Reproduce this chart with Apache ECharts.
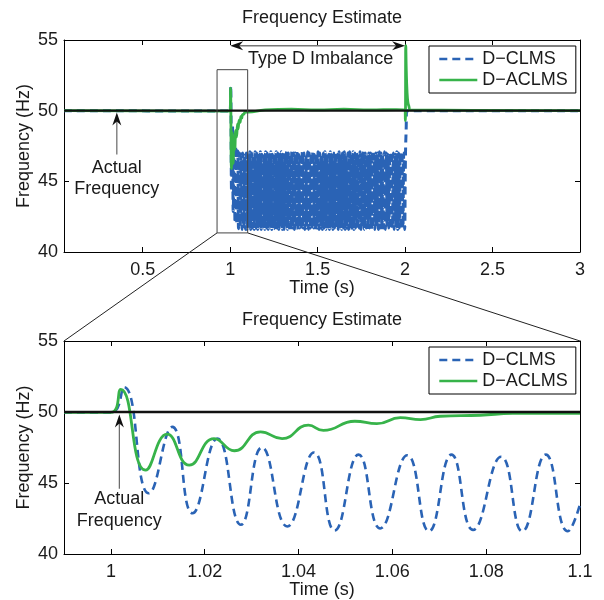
<!DOCTYPE html>
<html><head><meta charset="utf-8">
<script src="https://cdn.jsdelivr.net/npm/echarts@6/dist/echarts.min.js"></script>
<style>html,body{margin:0;padding:0;background:#fff}#c{width:604px;height:600px}</style>
</head><body><div id="c"></div>
<script>
// ---------------- DATA ----------------
const seriesNames = ['D\u2212CLMS', 'D\u2212ACLMS'];
const actualFrequency = 50;
const yTicks = [40, 45, 50, 55];
const topXTicks = [0.5, 1, 1.5, 2, 2.5, 3];
const bottomXTicks = [1, 1.02, 1.04, 1.06, 1.08, 1.1];

// zoomed window (0.99 - 1.1 s), D-CLMS extrema
const zoomClmsTime = [0.99, 1.0, 1.0028, 1.0081, 1.0131, 1.0174, 1.0227, 1.0277, 1.0322, 1.0376, 1.0433, 1.0477, 1.0528, 1.0574, 1.0632, 1.0678, 1.0726, 1.0772, 1.0832, 1.0877, 1.0927, 1.0974, 1.1];
const zoomClmsFreq = [49.97, 49.97, 51.75, 44.28, 48.95, 42.87, 48.13, 42.06, 47.5, 41.94, 47.15, 41.65, 47.0, 41.8, 46.95, 41.6, 47.0, 41.7, 46.85, 41.6, 47.0, 41.6, 43.5];

// zoomed window, D-ACLMS
const zoomAclmsTime = [0.99, 1.0, 1.0021, 1.0074, 1.012, 1.0167, 1.022, 1.0263, 1.0319, 1.0365, 1.0421, 1.0453, 1.052, 1.0567, 1.0617, 1.066, 1.0702, 1.0787, 1.0857, 1.1];
const zoomAclmsFreq = [49.97, 49.97, 51.6, 45.9, 48.44, 46.26, 48.13, 47.27, 48.6, 48.13, 49.07, 48.7, 49.35, 49.18, 49.6, 49.47, 49.7, 49.77, 49.9, 49.9];

// full record, before the imbalance
const preTime = [0.05];
const preClmsFreq = [50.0];
const preAclmsFreq = [50.0];

// full record, D-CLMS oscillation during imbalance (alternating peaks/troughs, 1.1025 s onwards every 5 ms)
const steadyClmsStart = 1.1025;
const steadyClmsStep = 0.005;
const steadyClmsFreq = [
47.0,41.7,47.1,41.6,47.0,41.7,46.9,41.6,47.1,41.7,47.0,41.6,47.0,41.7,47.1,41.6,46.9,41.7,47.0,41.6,
47.1,41.7,47.0,41.6,47.0,41.7,47.1,41.6,46.9,41.7,47.0,41.6,47.1,41.7,47.0,41.6,47.0,41.7,47.1,41.6,
46.9,41.6,47.0,41.7,47.1,41.6,47.0,41.7,46.9,41.6,47.1,41.7,47.0,41.6,47.0,41.7,47.1,41.6,46.9,41.7,
47.0,41.6,47.1,41.7,47.0,41.6,46.9,41.7,47.1,41.6,47.0,41.7,47.0,41.6,47.1,41.7,46.9,41.6,47.0,41.7,
47.1,41.6,47.0,41.7,46.9,41.6,47.0,41.7,47.1,41.6,47.0,41.7,46.9,41.6,47.1,41.7,47.0,41.6,47.0,41.7,
47.0,41.7,46.9,41.6,47.1,41.7,47.0,41.6,47.0,41.7,47.1,41.6,46.9,41.7,47.0,41.6,47.1,41.7,47.0,41.6,
47.1,41.6,47.0,41.7,47.0,41.6,46.9,41.7,47.1,41.6,47.0,41.7,47.1,41.6,47.0,41.7,46.9,41.6,47.0,41.7,
47.0,41.6,47.1,41.7,46.9,41.6,47.0,41.7,47.0,41.6,47.1,41.7,47.0,41.6,46.9,41.7,47.1,41.6,47.0,41.7,
46.9,41.7,47.0,41.6,47.1,41.7,47.0,41.6,46.9,41.7,47.1,41.6,47.0,41.7,47.0,41.6,47.1,41.7,47.0,41.6
];
// full record, D-CLMS after the imbalance ends
const postClmsTime = [2.0025, 2.006, 2.01, 3.0];
const postClmsFreq = [47.0, 48.6, 50.0, 50.0];

// full record, D-ACLMS after the transient
const postAclmsTime = [1.2, 1.35, 1.5, 1.65, 1.8, 1.95, 1.999, 2.0015, 2.004, 2.007, 2.011, 2.016, 2.022, 2.03, 3.0];
const postAclmsFreq = [50.05, 50.1, 50.05, 50.1, 50.05, 50.08, 50.05, 49.3, 54.6, 52.8, 51.4, 50.6, 50.3, 50.05, 50.0];

// ---------------- CHART ----------------
const FONT = '"Liberation Sans", Arial, Helvetica, sans-serif';
const TXT = '#1a1a1a';
const BLUE = '#2a63b5', GREEN = '#37b34a';
const pairs = (t, v) => t.map((x, i) => [x, v[i]]);
const steadyTime = steadyClmsFreq.map((_, i) => +(steadyClmsStart + i * steadyClmsStep).toFixed(4));

const topClms = [].concat(pairs(preTime, preClmsFreq), pairs(zoomClmsTime, zoomClmsFreq).slice(1), pairs(steadyTime, steadyClmsFreq), pairs(postClmsTime, postClmsFreq));
const topAclms = [].concat(pairs(preTime, preAclmsFreq), pairs(zoomAclmsTime, zoomAclmsFreq).slice(1), pairs(postAclmsTime, postAclmsFreq));
const botClms = pairs(zoomClmsTime, zoomClmsFreq);
const botAclms = pairs(zoomAclmsTime, zoomAclmsFreq);

const ranges = [{min: 0.05, max: 3, ticks: topXTicks, clmsW: 3}, {min: 0.99, max: 1.1, ticks: bottomXTicks, clmsW: 2.6}];
const textStyle = {fontFamily: FONT, fontSize: 18, color: TXT};

function xAxes(g) {
  const r = ranges[g];
  return [{
    type: 'value', gridIndex: g, min: r.min, max: r.max, position: 'bottom',
    axisLine: {show: true, onZero: false, lineStyle: {color: '#000', width: 1}},
    axisTick: {show: true, inside: true, length: 5, customValues: r.ticks, lineStyle: {color: '#000'}},
    axisLabel: {customValues: r.ticks, margin: 9, ...textStyle},
    splitLine: {show: false},
    name: 'Time (s)', nameLocation: 'middle', nameGap: 27, nameMoveOverlap: false, nameTextStyle: textStyle
  }, {
    type: 'value', gridIndex: g, min: r.min, max: r.max, position: 'top',
    axisLine: {show: true, onZero: false, lineStyle: {color: '#000', width: 1}},
    axisTick: {show: true, inside: true, length: 5, customValues: r.ticks, lineStyle: {color: '#000'}},
    axisLabel: {show: false}, splitLine: {show: false}
  }];
}
function yAxes(g) {
  return [{
    type: 'value', gridIndex: g, min: 40, max: 55, interval: 5, position: 'left',
    axisLine: {show: true, onZero: false, lineStyle: {color: '#000', width: 1}},
    axisTick: {show: true, inside: true, length: 5, lineStyle: {color: '#000'}},
    axisLabel: {margin: 6, ...textStyle, formatter: v => yTicks.includes(v) ? String(v) : ''},
    splitLine: {show: false},
    name: 'Frequency (Hz)', nameLocation: 'middle', nameGap: 31, nameMoveOverlap: false, nameTextStyle: textStyle
  }, {
    type: 'value', gridIndex: g, min: 40, max: 55, interval: 5, position: 'right',
    axisLine: {show: true, onZero: false, lineStyle: {color: '#000', width: 1}},
    axisTick: {show: true, inside: true, length: 5, lineStyle: {color: '#000'}},
    axisLabel: {show: false}, splitLine: {show: false}
  }];
}
function seriesFor(g, clms, aclms) {
  const r = ranges[g];
  const common = {type: 'line', xAxisIndex: 2 * g, yAxisIndex: 2 * g, symbol: 'none', smooth: 0.5, animation: false, silent: true};
  return [
    {...common, name: seriesNames[0], data: clms, lineStyle: {color: BLUE, width: r.clmsW, type: [8, 5]}, itemStyle: {color: BLUE}, z: 2},
    {...common, name: seriesNames[1], data: aclms, lineStyle: {color: GREEN, width: 2.8}, itemStyle: {color: GREEN}, z: 3},
    {...common, name: 'Actual', smooth: false, data: [[r.min, actualFrequency], [r.max, actualFrequency]], lineStyle: {color: '#111', width: 2.3}, z: 4}
  ];
}
function legendAt(top) {
  return {
    data: seriesNames, orient: 'vertical', left: 429, top: top, padding: [4, 8, 4, 9], itemGap: 3,
    itemWidth: 38, itemHeight: 14, borderColor: '#000', borderWidth: 1, backgroundColor: '#fff',
    itemStyle: {opacity: 0}, lineStyle: {width: 2.6},
    textStyle: textStyle, selectedMode: false
  };
}

const chart = echarts.init(document.getElementById('c'), null, {renderer: 'canvas'});
chart.setOption({
  backgroundColor: '#fff',
  animation: false,
  grid: [
    {left: 64, top: 40, width: 516, height: 212, containLabel: false},
    {left: 64, top: 341, width: 516, height: 215, containLabel: false}
  ],
  xAxis: [].concat(xAxes(0), xAxes(1)),
  yAxis: [].concat(yAxes(0), yAxes(1)),
  legend: [legendAt(46), legendAt(347)],
  series: [].concat(seriesFor(0, topClms, topAclms), seriesFor(1, botClms, botAclms))
});

// ---------------- ANNOTATIONS ----------------
const P = (g, x, y) => chart.convertToPixel({gridIndex: g}, [x, y]);
function arrowHead(tip, from) {
  const dx = tip[0] - from[0], dy = tip[1] - from[1];
  const len = Math.hypot(dx, dy), ux = dx / len, uy = dy / len, px = -uy, py = ux;
  const L = 13, W = 4.5, N = 9;
  return {type: 'polygon', z: 100, shape: {points: [
    tip,
    [tip[0] - ux * L + px * W, tip[1] - uy * L + py * W],
    [tip[0] - ux * N, tip[1] - uy * N],
    [tip[0] - ux * L - px * W, tip[1] - uy * L - py * W]
  ]}, style: {fill: '#111'}};
}
function line(a, b, color, w) {
  return {type: 'line', z: 99, shape: {x1: a[0], y1: a[1], x2: b[0], y2: b[1]}, style: {stroke: color, lineWidth: w}};
}
function text(s, pt, size) {
  return {type: 'text', z: 101, x: pt[0], y: pt[1], style: {text: s, font: (size || 18) + 'px ' + FONT, fill: TXT, align: 'center', verticalAlign: 'middle'}};
}

const G = [];
// titles
const t0 = P(0, 1.525, 55), t1 = P(1, 1.045, 55);
G.push(text('Frequency Estimate', [t0[0], 18.5]));
G.push(text('Frequency Estimate', [t1[0], 320]));

// zoom rectangle and connectors
const r1 = P(0, 0.925, 52.9), r2 = P(0, 1.1, 41.35);
G.push({type: 'rect', z: 98, shape: {x: r1[0], y: r1[1], width: r2[0] - r1[0], height: r2[1] - r1[1]}, style: {fill: null, stroke: '#444', lineWidth: 1}});
G.push(line([r1[0], r2[1]], P(1, 0.99, 55), '#222', 1));
G.push(line([r2[0], r2[1]], P(1, 1.1, 55), '#222', 1));

// Type D Imbalance double arrow
const d1 = P(0, 1.0, 54.6), d2 = P(0, 2.0, 54.6);
G.push(line([d1[0] + 8, d1[1]], [d2[0] - 8, d2[1]], '#777', 1.5));
G.push(arrowHead(d1, d2));
G.push(arrowHead(d2, d1));
G.push(text('Type D Imbalance', P(0, 1.517, 53.62)));

// Actual frequency arrows
const a1tip = P(0, 0.352, 49.87), a1tail = P(0, 0.352, 46.9);
G.push(line(a1tail, [a1tip[0], a1tip[1] + 8], '#666', 1.2));
G.push(arrowHead(a1tip, a1tail));
G.push(text('Actual', P(0, 0.352, 45.94)));
G.push(text('Frequency', P(0, 0.352, 44.45)));

const a2tip = P(1, 1.0018, 49.82), a2tail = P(1, 1.0018, 44.6);
G.push(line(a2tail, [a2tip[0], a2tip[1] + 8], '#666', 1.2));
G.push(arrowHead(a2tip, a2tail));
G.push(text('Actual', P(1, 1.0018, 43.89)));
G.push(text('Frequency', P(1, 1.0018, 42.35)));

chart.setOption({graphic: G});
</script>
</body></html>
